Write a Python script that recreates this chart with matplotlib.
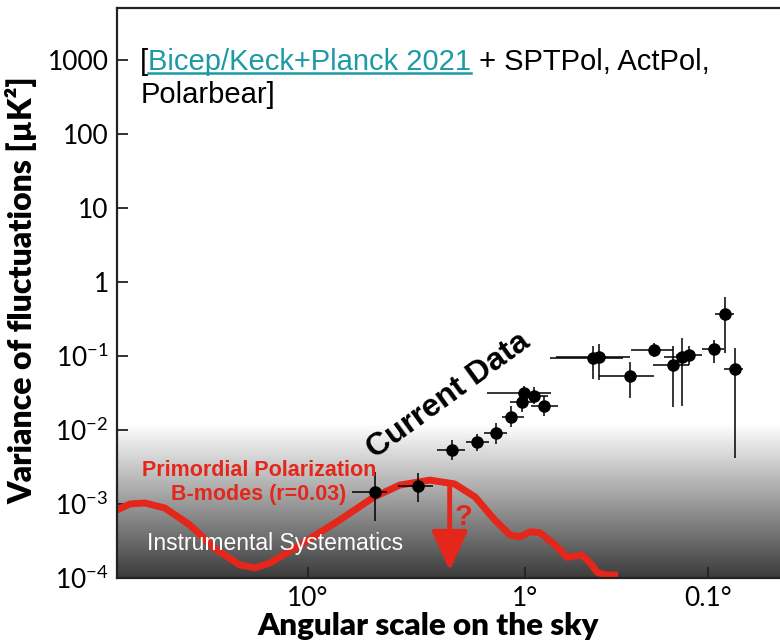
import numpy as np
import matplotlib
matplotlib.use('Agg')
import matplotlib.pyplot as plt
from matplotlib.lines import Line2D
from matplotlib.transforms import IdentityTransform

# Primordial B-mode curve (multipole ell, variance in uK^2)
curve_ell = [2.64, 3.03, 3.55, 4.39, 5.72, 7.45, 9.72, 11.4, 13.4, 18.4, 28.1, 40.3,
             53.1, 73, 95, 118, 145, 171, 190, 211, 234, 275, 313, 340, 366, 399,
             430, 468, 537]
curve_val = [8.3e-4, 1.0e-3, 1.03e-3, 8.8e-4, 5.2e-4, 2.5e-4, 1.5e-4, 1.37e-4, 1.6e-4,
             2.8e-4, 6.1e-4, 1.24e-3, 1.8e-3, 2.1e-3, 1.86e-3, 1.24e-3, 6.1e-4, 3.8e-4,
             3.6e-4, 4.2e-4, 4.1e-4, 2.8e-4, 1.9e-4, 1.98e-4, 2.05e-4, 1.6e-4, 1.2e-4,
             1.1e-4, 1.1e-4]

# Current data points: center, x-range, y-range
pt_ell = [40.7, 64.2, 92.2, 120, 147, 172, 194, 198, 220, 245,
          411, 439, 610, 786, 962, 1059, 1140, 1486, 1670, 1858]
pt_ell_lo = [31.9, 52.0, 78.6, 107, 129, 157, 171, 134, 190, 213,
             261, 278, 439, 615, 778, 875, 993, 1309, 1502, 1652]
pt_ell_hi = [46.2, 75.4, 105.9, 136, 165, 198, 218, 264, 255, 284,
             566, 610, 786, 962, 1140, 1214, 1309, 1652, 1836, 2023]
pt_val = [1.45e-3, 1.75e-3, 5.37e-3, 6.9e-3, 9.1e-3, 1.5e-2, 2.39e-2, 3.16e-2, 2.88e-2, 2.11e-2,
          9.4e-2, 9.7e-2, 5.4e-2, 0.1205, 7.6e-2, 9.7e-2, 0.103, 0.124, 0.37, 6.7e-2]
pt_val_lo = [5.9e-4, 1.06e-3, 3.94e-3, 5.2e-3, 6.5e-3, 1.1e-2, 1.75e-2, 2.39e-2, 2.25e-2, 1.55e-2,
             4.9e-2, 4.7e-2, 2.7e-2, 9.7e-2, 2.05e-2, 2.11e-2, 7.6e-2, 8.0e-2, 0.11, 4.2e-3]
pt_val_hi = [2.7e-3, 2.62e-3, 7.3e-3, 8.8e-3, 1.24e-2, 2.11e-2, 3.16e-2, 3.9e-2, 3.8e-2, 2.88e-2,
             0.136, 0.145, 8.3e-2, 0.15, 0.136, 0.175, 0.136, 0.164, 0.627, 0.128]

ytick_vals = [1e-4, 1e-3, 1e-2, 1e-1, 1, 10, 100, 1000]
ytick_labels = [r'$\mathregular{10^{-4}}$', r'$\mathregular{10^{-3}}$',
                r'$\mathregular{10^{-2}}$', r'$\mathregular{10^{-1}}$',
                '1', '10', '100', '1000']
xtick_vals = [20, 200, 1400]
xtick_labels = ['10°', '1°', '0.1°']

red = '#e5261b'
teal = '#1d9aa5'

plt.rcParams['font.family'] = ['Lato', 'DejaVu Sans']
plt.rcParams['mathtext.fontset'] = 'custom'
plt.rcParams['mathtext.rm'] = 'Lato'

fig = plt.figure(figsize=(7.8, 6.44), dpi=100)
pos = [117/780, 66/644, 663/780, 570/644]

# background gradient (instrumental systematics)
bg = fig.add_axes(pos, zorder=0)
bg.axis('off')
frac = np.linspace(0, 1, 400)[:, None]
shade = np.clip(0.235 + (1 - 0.235) * frac / 0.27, 0, 1)
bg.imshow(shade, origin='lower', extent=(0, 1, 0, 1), aspect='auto',
          cmap='gray', vmin=0, vmax=1, interpolation='bilinear')
bg.set_xlim(0, 1)
bg.set_ylim(0, 1)

ax = fig.add_axes(pos, zorder=1)
ax.patch.set_alpha(0)
ax.set_xscale('log')
ax.set_yscale('log')
ax.set_xlim(2.64, 2993)
ax.set_ylim(1e-4, 5000)

ax.plot(curve_ell, curve_val, color=red, lw=5, solid_capstyle='butt',
        solid_joinstyle='round', zorder=2)

pe = np.array(pt_ell); pv = np.array(pt_val)
xerr = [pe - np.array(pt_ell_lo), np.array(pt_ell_hi) - pe]
yerr = [pv - np.array(pt_val_lo), np.array(pt_val_hi) - pv]
ax.errorbar(pe, pv, xerr=xerr, yerr=yerr, fmt='o', color='black', ms=8,
            elinewidth=1.1, capsize=0, zorder=3)

# arrow with question mark
ax.annotate('', xy=(90, 1.25e-4), xytext=(90, 1.95e-3),
            arrowprops=dict(arrowstyle='-|>,head_width=0.5,head_length=1.1',
                            color=red, lw=3.5, mutation_scale=22, shrinkA=0, shrinkB=0),
            zorder=4)
ax.text(104, 6.6e-4, '?', color=red, fontsize=21, fontweight='bold',
        family='Liberation Sans', ha='center', va='center', zorder=4)

ax.text(11.9, 1.95e-3, 'Primordial Polarization\nB-modes (r=0.03)', color=red,
        fontsize=15.5, fontweight='bold', family='Liberation Sans', ha='center',
        va='center', linespacing=1.2, zorder=4)
ax.text(0.045, 0.04, 'Instrumental Systematics', color='white', fontsize=16.5,
        family='Liberation Sans', transform=ax.transAxes, ha='left', va='bottom', zorder=4)
ax.text(89, 2.88e-2, 'Current Data', fontsize=23, fontweight='bold',
        family='Liberation Sans', rotation=36, ha='center', va='center',
        rotation_mode='anchor', zorder=4)

# header text with underlined link
kw = dict(fontsize=21, family='Liberation Sans')
t0 = ax.text(0.035, 0.891, '[', transform=ax.transAxes, va='baseline', **kw)
t1 = ax.annotate('Bicep/Keck+Planck 2021', xy=(1, 0), xycoords=t0, va='bottom',
                 color=teal, **kw)
t2 = ax.annotate(' + SPTPol, ActPol,', xy=(1, 0), xycoords=t1, va='bottom', **kw)
ax.text(0.035, 0.891 - 33/570, 'Polarbear]', transform=ax.transAxes, va='baseline', **kw)

ax.set_xticks(xtick_vals)
ax.set_xticklabels(xtick_labels)
ax.set_yticks(ytick_vals)
ax.set_yticklabels(ytick_labels)
ax.minorticks_off()
ax.tick_params(direction='in', length=8, width=1.3, labelsize=19, color='#222222')
ax.tick_params(axis='x', pad=6)
ax.tick_params(axis='y', pad=6)
for s in ['left', 'top', 'bottom']:
    ax.spines[s].set_linewidth(1.6)
    ax.spines[s].set_color('#222222')
ax.spines['right'].set_visible(False)

ax.set_xlabel('Angular scale on the sky', fontsize=22.5, fontweight='heavy')
ax.xaxis.set_label_coords((428 - 117) / 663, -0.06)
ax.set_ylabel('Variance of fluctuations [µK²]', fontsize=23, fontweight='heavy')
ax.yaxis.set_label_coords(-0.12, 0.505)

fig.canvas.draw()
r = fig.canvas.get_renderer()
bb = t1.get_window_extent(r)
fig.add_artist(Line2D([bb.x0, bb.x1], [bb.y0 + 3, bb.y0 + 3], color=teal, lw=1.8,
                      transform=IdentityTransform()))

fig.savefig('out.png', dpi=100)
